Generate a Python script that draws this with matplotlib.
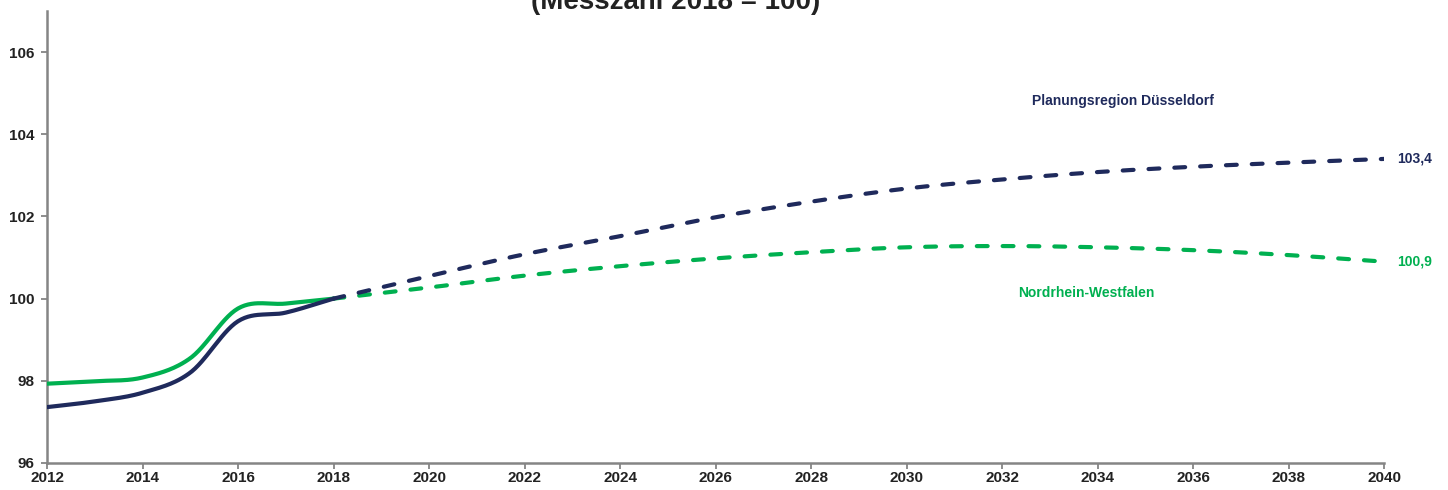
import numpy as np
import matplotlib
matplotlib.use("Agg")
import matplotlib.pyplot as plt

# ------------------------------------------------------------------
# Data (Messzahl 2018 = 100)
# ------------------------------------------------------------------
years_hist = [2012, 2013, 2014, 2015, 2016, 2017, 2018]
dus_hist = [97.36, 97.50, 97.71, 98.20, 99.45, 99.66, 100.0]
nrw_hist = [97.93, 97.99, 98.08, 98.55, 99.76, 99.88, 100.0]

years_proj = [2018, 2020, 2022, 2024, 2026, 2028, 2030, 2032, 2034, 2036, 2038, 2040]
dus_proj = [100.0, 100.55, 101.08, 101.52, 101.98, 102.36, 102.68, 102.90, 103.08, 103.21, 103.31, 103.40]
nrw_proj = [100.0, 100.27, 100.56, 100.79, 100.98, 101.13, 101.25, 101.28, 101.25, 101.18, 101.06, 100.90]

series_names = ["Planungsregion Düsseldorf", "Nordrhein-Westfalen"]
end_labels = ["103,4", "100,9"]
x_ticks = list(range(2012, 2041, 2))
y_ticks = [96, 98, 100, 102, 104, 106]

NAVY = "#1f2a5c"
GREEN = "#00b050"
GREY = "#858585"
TEXT = "#222222"

plt.rcParams["font.family"] = ["Liberation Sans", "DejaVu Sans"]
plt.rcParams["font.weight"] = "bold"


def smooth(x, y, n=30):
    # Catmull-Rom curve through the points, similar to Excel's smoothed lines
    x = np.asarray(x, float)
    y = np.asarray(y, float)
    px = np.concatenate([[2 * x[0] - x[1]], x, [2 * x[-1] - x[-2]]])
    py = np.concatenate([[2 * y[0] - y[1]], y, [2 * y[-1] - y[-2]]])
    t = np.linspace(0, 1, n)
    xs, ys = [], []
    for i in range(1, len(px) - 2):
        for p, out in ((px, xs), (py, ys)):
            p0, p1, p2, p3 = p[i - 1], p[i], p[i + 1], p[i + 2]
            out.append(0.5 * (2 * p1 + (-p0 + p2) * t
                              + (2 * p0 - 5 * p1 + 4 * p2 - p3) * t ** 2
                              + (-p0 + 3 * p1 - 3 * p2 + p3) * t ** 3))
    return np.concatenate(xs), np.concatenate(ys)


fig = plt.figure(figsize=(14.48, 4.9), dpi=100)
ax = fig.add_axes([47 / 1448, 1 - 463 / 490, (1384 - 47) / 1448, (463 - 11) / 490])

lw = 3.0
for yh, yp, col in ((nrw_hist, nrw_proj, GREEN), (dus_hist, dus_proj, NAVY)):
    xs, ys = smooth(years_hist, yh)
    ax.plot(xs, ys, color=col, lw=lw, solid_capstyle="round", zorder=3)
    xs, ys = smooth(years_proj, yp)
    ax.plot(xs, ys, color=col, lw=lw, dashes=(2.6, 3.6),
            dash_capstyle="round", zorder=3)

ax.set_xlim(2012, 2040)
ax.set_ylim(96, 107)
ax.set_xticks(x_ticks)
ax.set_yticks(y_ticks)
ax.tick_params(colors=GREY, labelcolor=TEXT, labelsize=11, length=4, width=1.3,
               direction="out")
ax.tick_params(axis="x", pad=2)
ax.tick_params(axis="y", pad=5)
for lab in ax.get_xticklabels() + ax.get_yticklabels():
    lab.set_fontweight("bold")

for side in ("top", "right"):
    ax.spines[side].set_visible(False)
for side in ("left", "bottom"):
    ax.spines[side].set_color(GREY)
    ax.spines[side].set_linewidth(1.8)

# series labels
ax.text(2034.53, 104.81, series_names[0], color=NAVY, fontsize=10,
        fontweight="bold", ha="center", va="center")
ax.text(2033.76, 100.13, series_names[1], color=GREEN, fontsize=10,
        fontweight="bold", ha="center", va="center")
ax.text(2040.27, dus_proj[-1], end_labels[0], color=NAVY, fontsize=10,
        fontweight="bold", ha="left", va="center", clip_on=False)
ax.text(2040.27, nrw_proj[-1], end_labels[1], color=GREEN, fontsize=10,
        fontweight="bold", ha="left", va="center", clip_on=False)

# title (partly cut off at the top edge as in the source)
fig.text(676 / 1448, 1 - 9 / 490, "(Messzahl 2018 = 100)", color=TEXT,
         fontsize=20, fontweight="bold", ha="center", va="baseline")

fig.savefig("out.png", dpi=100)
